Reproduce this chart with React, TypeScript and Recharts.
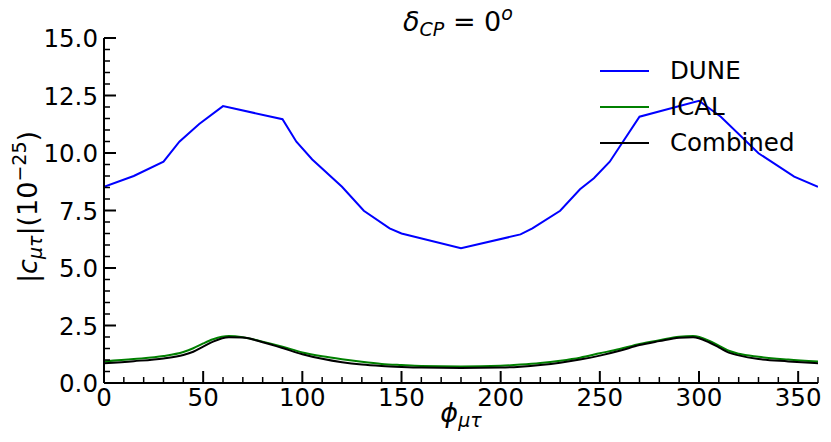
import React from "react";
import { LineChart, Line, XAxis, YAxis, Legend } from "recharts";

// DUNE bound: piecewise-linear curve
const dunePhi = [0, 15, 30, 38, 48, 60, 90, 97, 105, 120, 131, 144, 150, 180, 210, 216, 230, 240, 247, 255, 270, 300, 311, 330, 348, 360];
const duneVal = [8.53, 9.0, 9.62, 10.49, 11.26, 12.04, 11.47, 10.49, 9.72, 8.53, 7.49, 6.72, 6.5, 5.86, 6.46, 6.72, 7.49, 8.42, 8.9, 9.62, 11.58, 12.27, 11.58, 9.99, 8.97, 8.53];

// ICAL and Combined share the same phi grid
const smoothPhi = [0, 15, 30, 40, 45, 50, 55, 63, 70, 80, 90, 100, 110, 120, 130, 140, 150, 160, 180, 200, 210, 220, 230, 240, 250, 260, 270, 280, 290, 297, 305, 310, 315, 320, 330, 345, 360];
const icalVal = [0.94, 1.04, 1.17, 1.35, 1.51, 1.72, 1.9, 2.04, 1.99, 1.8, 1.58, 1.33, 1.16, 1.03, 0.92, 0.83, 0.78, 0.74, 0.72, 0.75, 0.8, 0.87, 0.97, 1.1, 1.29, 1.48, 1.7, 1.86, 2.01, 2.04, 1.84, 1.62, 1.4, 1.27, 1.14, 1.02, 0.93];
const combinedVal = [0.86, 0.95, 1.07, 1.22, 1.36, 1.58, 1.8, 1.99, 1.98, 1.77, 1.52, 1.25, 1.05, 0.9, 0.8, 0.74, 0.7, 0.67, 0.65, 0.67, 0.71, 0.78, 0.88, 1.02, 1.19, 1.4, 1.65, 1.82, 1.97, 1.99, 1.77, 1.55, 1.32, 1.2, 1.04, 0.94, 0.86];

const seriesOrder = ["DUNE", "ICAL", "Combined"];
const xMajor = [0, 50, 100, 150, 200, 250, 300, 350];
const yMajor = [0, 2.5, 5, 7.5, 10, 12.5, 15];
const xTicks = Array.from({ length: 37 }, (_, i) => i * 10);
const yTicks = Array.from({ length: 31 }, (_, i) => i * 0.5);

const duneData = dunePhi.map((phi, i) => ({ phi, y: duneVal[i] }));
const icalData = smoothPhi.map((phi, i) => ({ phi, y: icalVal[i] }));
const combinedData = smoothPhi.map((phi, i) => ({ phi, y: combinedVal[i] }));

const FONT = "DejaVu Sans";
const TICK_FS = 24.5;
const W = 831;
const H = 442;

function YTick(props: any) {
  const { x, y, payload } = props;
  const v = payload.value;
  const major = yMajor.some((m) => Math.abs(m - v) < 1e-6);
  return (
    <g>
      <line x1={x} y1={y} x2={x + (major ? 12 : 6)} y2={y} stroke="#000" strokeWidth={major ? 2 : 1.5} />
      {major && (
        <text x={x - 6} y={y} dy={9} textAnchor="end" fontFamily={FONT} fontSize={TICK_FS} fill="#000">
          {v.toFixed(1)}
        </text>
      )}
    </g>
  );
}

function XTick(props: any) {
  const { x, y, payload } = props;
  const v = payload.value;
  const major = xMajor.includes(v);
  return (
    <g>
      <line x1={x} y1={y} x2={x} y2={y - (major ? 12 : 6)} stroke="#000" strokeWidth={major ? 2 : 1.5} />
      {major && (
        <text x={x} y={y} dy={22.5} textAnchor="middle" fontFamily={FONT} fontSize={TICK_FS} fill="#000">
          {v}
        </text>
      )}
    </g>
  );
}

function LegendBox(props: any) {
  const items = [...(props.payload || [])].sort(
    (a: any, b: any) => seriesOrder.indexOf(a.value) - seriesOrder.indexOf(b.value)
  );
  return (
    <div style={{ fontFamily: FONT, fontSize: TICK_FS }}>
      {items.map((it: any) => (
        <div key={it.value} style={{ display: "flex", alignItems: "center", height: 36 }}>
          <div style={{ width: 49, height: 2, background: it.color, marginRight: 21 }} />
          <span style={{ lineHeight: "36px" }}>{it.value}</span>
        </div>
      ))}
    </div>
  );
}

export default function App() {
  return (
    <div style={{ position: "absolute", left: 0, top: 0, width: W, height: H, background: "#fff" }}>
      <LineChart width={W} height={H} margin={{ top: 38, right: 13, bottom: 0, left: 0 }}>
        <XAxis
          dataKey="phi"
          type="number"
          domain={[0, 360]}
          ticks={xTicks}
          interval={0}
          tick={<XTick />}
          tickLine={false}
          tickSize={0}
          tickMargin={0}
          height={59}
          axisLine={{ stroke: "#000", strokeWidth: 2 }}
          allowDataOverflow
        />
        <XAxis xAxisId="top" orientation="top" type="number" domain={[0, 360]} tick={false} tickLine={false} height={0} axisLine={{ stroke: "#000", strokeWidth: 2 }} />
        <YAxis
          type="number"
          domain={[0, 15]}
          ticks={yTicks}
          interval={0}
          tick={<YTick />}
          tickLine={false}
          tickSize={0}
          tickMargin={0}
          width={104}
          axisLine={{ stroke: "#000", strokeWidth: 2 }}
          allowDataOverflow
        />
        <YAxis yAxisId="right" orientation="right" type="number" domain={[0, 15]} tick={false} tickLine={false} width={0} axisLine={{ stroke: "#000", strokeWidth: 2 }} />
        <Legend
          layout="horizontal"
          verticalAlign="middle"
          align="center"
          content={<LegendBox />}
          wrapperStyle={{ left: 600, top: 53, width: 225, height: 108 }}
        />
        <Line data={duneData} dataKey="y" name="DUNE" type="linear" stroke="#0000ff" strokeWidth={2} dot={false} isAnimationActive={false} />
        <Line data={icalData} dataKey="y" name="ICAL" type="monotone" stroke="#008000" strokeWidth={2} dot={false} isAnimationActive={false} />
        <Line data={combinedData} dataKey="y" name="Combined" type="monotone" stroke="#000000" strokeWidth={2} dot={false} isAnimationActive={false} />
      </LineChart>
      <svg width={W} height={H} style={{ position: "absolute", left: 0, top: 0, pointerEvents: "none" }}>
        <text x={458} y={31} textAnchor="middle" fontFamily={FONT} fontSize={27} fill="#000">
          <tspan fontStyle="italic">δ</tspan>
          <tspan fontStyle="italic" fontSize={19} dy={5}>CP</tspan>
          <tspan dy={-5}> = 0</tspan>
          <tspan fontStyle="italic" fontSize={19} dy={-11}>o</tspan>
        </text>
        <text x={461} y={422} textAnchor="middle" fontFamily={FONT} fontSize={27} fill="#000">
          <tspan fontStyle="italic">ϕ</tspan>
          <tspan fontStyle="italic" fontSize={19} dy={5}>μτ</tspan>
        </text>
        <text x={37} y={207} textAnchor="middle" fontFamily={FONT} fontSize={27} fill="#000" transform="rotate(-90, 37, 207)">
          <tspan>|</tspan>
          <tspan fontStyle="italic">c</tspan>
          <tspan fontStyle="italic" fontSize={19} dy={5}>μτ</tspan>
          <tspan dy={-5}>|(10</tspan>
          <tspan fontSize={19} dy={-11}>−25</tspan>
          <tspan dy={11}>)</tspan>
        </text>
      </svg>
    </div>
  );
}
